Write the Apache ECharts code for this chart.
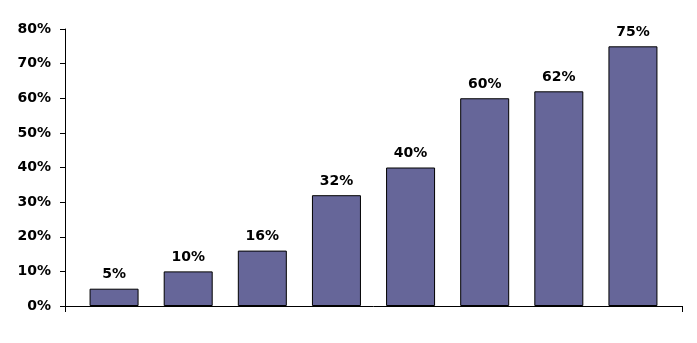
<!DOCTYPE html>
<html>
<head>
<meta charset="utf-8">
<style>
  html, body { margin: 0; padding: 0; background: #ffffff; }
  #chart { width: 697px; height: 343px; }
</style>
<script src="https://cdn.jsdelivr.net/npm/echarts@6/dist/echarts.min.js"></script>
</head>
<body>
<div id="chart"></div>
<script>
// Chart data
const categories = ['1', '2', '3', '4', '5', '6', '7', '8'];
const values = [5, 10, 16, 32, 40, 60, 62, 75];
const yTicks = { min: 0, max: 80, step: 10 };

const FONT = '"DejaVu Sans", "Liberation Sans", Arial, sans-serif';

const chart = echarts.init(document.getElementById('chart'), null, { renderer: 'canvas' });

chart.setOption({
  animation: false,
  backgroundColor: '#ffffff',
  grid: [
    // bar area (inset from the axis frame)
    { left: 77, right: 27, top: 29, bottom: 37 },
    // axis frame
    { left: 65, right: 15, top: 29, bottom: 37 }
  ],
  xAxis: [
    {
      type: 'category',
      gridIndex: 0,
      data: categories,
      boundaryGap: true,
      axisLine: { show: false },
      axisTick: { show: false },
      axisLabel: { show: false },
      splitLine: { show: false }
    },
    {
      type: 'category',
      gridIndex: 1,
      data: [''],
      boundaryGap: true,
      axisLine: { show: true, lineStyle: { color: '#000000', width: 1 } },
      axisTick: { show: true, length: 6, lineStyle: { color: '#000000', width: 1 } },
      axisLabel: { show: false },
      splitLine: { show: false }
    }
  ],
  yAxis: [
    {
      type: 'value',
      gridIndex: 0,
      min: yTicks.min,
      max: yTicks.max,
      interval: yTicks.step,
      offset: 12,
      axisLine: { show: true, lineStyle: { color: '#000000', width: 1 } },
      axisTick: { show: true, length: 5, lineStyle: { color: '#000000', width: 1 } },
      axisLabel: {
        formatter: '{value}%',
        margin: 14,
        color: '#000000',
        fontFamily: FONT,
        fontWeight: 'bold',
        fontSize: 14
      },
      splitLine: { show: false }
    },
    {
      type: 'value',
      gridIndex: 1,
      min: yTicks.min,
      max: yTicks.max,
      show: false
    }
  ],
  series: [
    {
      type: 'bar',
      xAxisIndex: 0,
      yAxisIndex: 0,
      data: values,
      barWidth: 49,
      itemStyle: { color: '#666699', borderColor: '#000000', borderWidth: 1 },
      label: {
        show: true,
        position: 'top',
        distance: 7,
        formatter: '{c}%',
        color: '#000000',
        fontFamily: FONT,
        fontWeight: 'bold',
        fontSize: 14
      }
    }
  ]
});
</script>
</body>
</html>
